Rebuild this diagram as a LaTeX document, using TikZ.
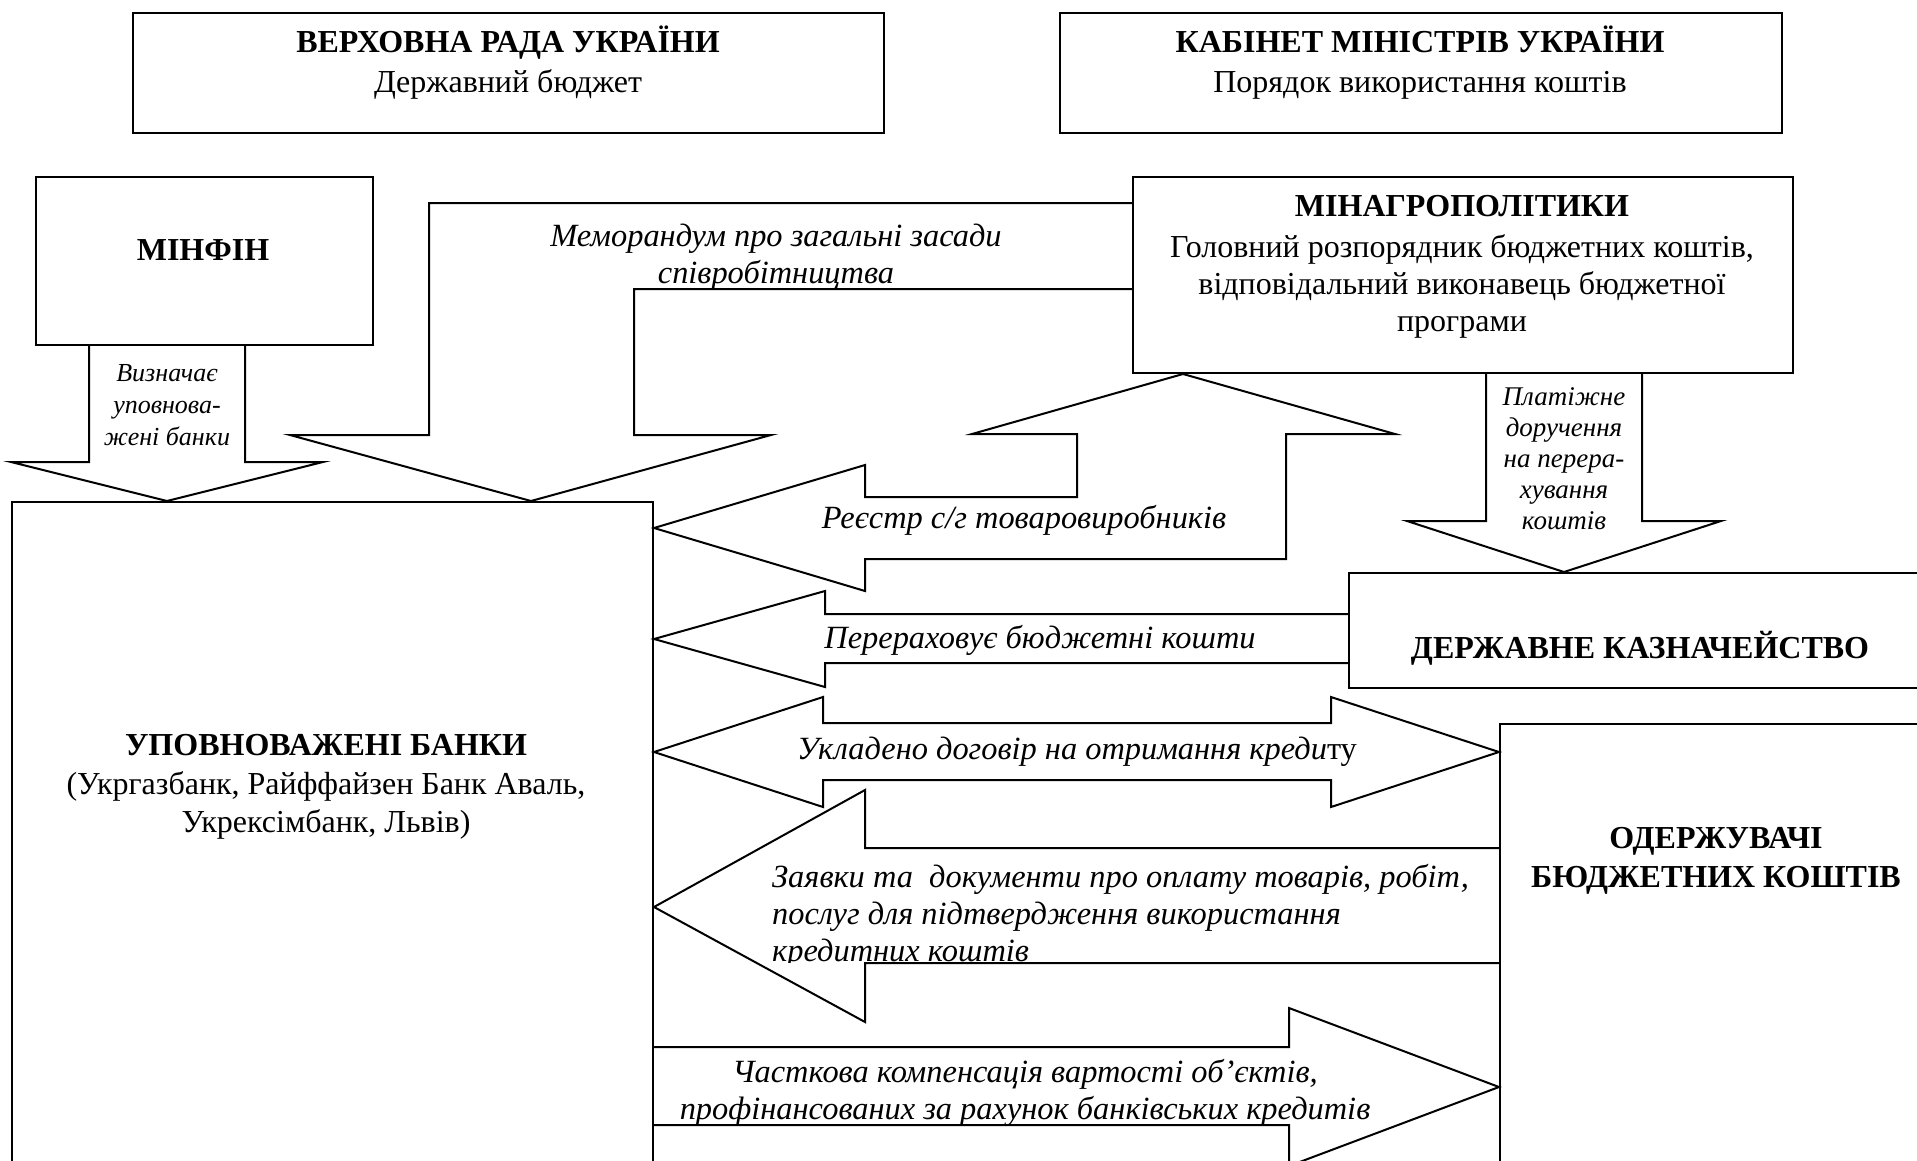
\documentclass[tikz,border=0pt]{standalone}
\usepackage{fontspec}
\setmainfont{Liberation Serif}
\begin{document}
\begin{tikzpicture}[x=1pt,y=-1pt,
  ln/.style={line width=2pt, line join=miter},
  box/.style={draw, line width=2pt, inner sep=0pt, anchor=north west},
  txt/.style={align=center, inner sep=0pt, font=\fontsize{32}{37}\selectfont},
  ilbl/.style={align=center, inner sep=0pt, font=\fontsize{32.4}{37}\selectfont\itshape},
  slbl/.style={align=center, inner sep=0pt, font=\fontsize{26}{32}\selectfont\itshape}]
\useasboundingbox (0,0) rectangle (1917,1160);
\fill[white] (0,0) rectangle (1917,1160);
\begin{scope}
\clip (0,0) rectangle (1917,1160);
% boxes
\node[box, minimum width=751pt, minimum height=120pt] (vr) at (132,12) {};
\node[box, minimum width=722pt, minimum height=120pt] (km) at (1059,12) {};
\node[box, minimum width=337pt, minimum height=168pt] (minfin) at (35,176) {};
\node[box, minimum width=660pt, minimum height=196pt] (minagro) at (1132,176) {};
\node[box, minimum width=641pt, minimum height=680pt] (banks) at (11,501) {};
\node[box, minimum width=600pt, minimum height=115pt] (treas) at (1348,572) {};
\node[box, minimum width=450pt, minimum height=460pt] (recip) at (1499,723) {};
% texts
\node[txt, font=\fontsize{32}{40}\selectfont] (vrt) at (508,63) {\textbf{ВЕРХОВНА РАДА УКРАЇНИ}\\Державний бюджет};
\node[txt, font=\fontsize{32}{40}\selectfont] (kmt) at (1420,63) {\textbf{КАБІНЕТ МІНІСТРІВ УКРАЇНИ}\\Порядок використання коштів};
\node[txt] (minfint) at (203,250) {\textbf{МІНФІН}};
\node[txt] (minagrot) at (1462,267) {\textbf{МІНАГРОПОЛІТИКИ}\\[4pt]Головний розпорядник бюджетних коштів,\\відповідальний виконавець бюджетної\\програми};
\node[txt, font=\fontsize{32}{38.5}\selectfont] (bankst) at (326,787) {\textbf{УПОВНОВАЖЕНІ БАНКИ}\\(Укргазбанк, Райффайзен Банк Аваль,\\Укрексімбанк, Львів)};
\node[txt] (treast) at (1640,648) {\textbf{ДЕРЖАВНЕ КАЗНАЧЕЙСТВО}};
\node[txt, font=\fontsize{32}{39}\selectfont] (recipt) at (1716,861) {\textbf{ОДЕРЖУВАЧІ}\\\textbf{БЮДЖЕТНИХ КОШТІВ}};
% block arrows
\draw[ln] (minfin.south -| 89,0) -- (89,462) -- (11,462) -- (167,501) -- (323,462) -- (245,462) -- (minfin.south -| 245,0);
\draw[ln] (minagro.west |- 0,203) -- (429,203) -- (429,435) -- (290,435) -- (531,501) -- (771,435) -- (634,435) -- (634,289) -- (minagro.west |- 0,289);
\draw[ln] (1395,434) -- (minagro.south -| 1183,0) -- (972,434) -- (1077,434) -- (1077,497) -- (865,497) -- (865,465) -- (banks.east |- 0,528) -- (865,591) -- (865,559) -- (1286,559) -- (1286,434) -- cycle;
\draw[ln] (minagro.south -| 1486,0) -- (1486,521) -- (1407,521) -- (treas.north -| 1564,0) -- (1721,521) -- (1642,521) -- (minagro.south -| 1642,0);
\draw[ln] (treas.west |- 0,614) -- (825,614) -- (825,591) -- (banks.east |- 0,639) -- (825,687) -- (825,663) -- (treas.west |- 0,663);
\draw[ln] (banks.east |- 0,752) -- (823,697) -- (823,723) -- (1331,723) -- (1331,697) -- (recip.west |- 0,752) -- (1331,807) -- (1331,780) -- (823,780) -- (823,807) -- cycle;
\draw[ln] (recip.west |- 0,848) -- (865,848) -- (865,790) -- (banks.east |- 0,907) -- (865,1022) -- (865,963) -- (recip.west |- 0,963);
\draw[ln] (banks.east |- 0,1047) -- (1289,1047) -- (1289,1008) -- (recip.west |- 0,1087) -- (1289,1166) -- (1289,1125) -- (banks.east |- 0,1125);
% arrow labels
\node[slbl] (l1) at (167,405) {Визначає\\уповнова-\\жені банки};
\node[ilbl] (l2) at (776,257) {Меморандум про загальні засади\\співробітництва};
\node[ilbl] (l3) at (1024,520) {Реєстр с/г товаровиробників};
\node[slbl, font=\fontsize{27}{31}\selectfont\itshape] (l4) at (1564,459) {Платіжне\\доручення\\на перера-\\хування\\коштів};
\node[ilbl] (l5) at (1040,640) {Перераховує бюджетні кошти};
\node[ilbl] (l6) at (1077,752) {\textit{Укладено договір на отримання креди}\upshape ту};
\begin{scope}
\clip (652,850) rectangle (1499,962);
\node[ilbl, align=left, anchor=north west] (l7) at (772,864) {Заявки та\ \ документи про оплату товарів, робіт,\\послуг для підтвердження використання\\кредитних коштів};
\end{scope}
\begin{scope}
\clip (652,1049) rectangle (1499,1123);
\node[ilbl] (l8) at (1025,1093) {Часткова компенсація вартості об’єктів,\\профінансованих за рахунок банківських кредитів};
\end{scope}
\end{scope}
\end{tikzpicture}
\end{document}
